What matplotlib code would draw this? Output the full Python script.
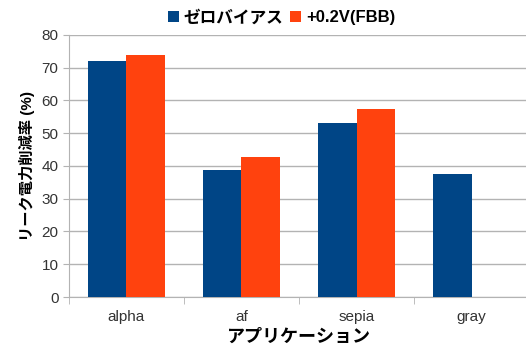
import matplotlib
matplotlib.use('Agg')
import matplotlib.pyplot as plt
import numpy as np

plt.rcParams['font.family'] = ['Liberation Sans', 'Noto Sans CJK JP']

categories = ['alpha', 'af', 'sepia', 'gray']
zero_bias = [72, 38.8, 53, 37.6]
fbb = [74, 42.7, 57.4, np.nan]
series_names = ['ゼロバイアス', '+0.2V(FBB)']
colors = ['#004586', '#ff420e']
yticks = [0, 10, 20, 30, 40, 50, 60, 70, 80]

fig = plt.figure(figsize=(5.26, 3.45), dpi=100)
ax = fig.add_axes([0.131, 0.139, 0.875, 0.76])

x = np.arange(len(categories))
w = 0.335
ax.bar(x - w / 2, zero_bias, w, color=colors[0], label=series_names[0], zorder=3)
ax.bar(x + w / 2, fbb, w, color=colors[1], label=series_names[1], zorder=3)

ax.set_xlim(-0.5, len(categories) - 0.5)
ax.set_ylim(0, 80)
ax.set_yticks(yticks)
ax.yaxis.grid(True, color='#b3b3b3', linewidth=1, zorder=0)
ax.set_xticks(x)
ax.set_xticklabels(categories, fontsize=11, color='#333333')
ax.set_xticks(np.arange(len(categories) + 1) - 0.5, minor=True)
ax.tick_params(axis='x', which='major', length=0, pad=9)
ax.tick_params(axis='x', which='minor', length=5, color='#b3b3b3')
ax.tick_params(axis='y', length=4, color='#b3b3b3', labelsize=11, labelcolor='#333333')

for s in ['top', 'right']:
    ax.spines[s].set_visible(False)
for s in ['left', 'bottom']:
    ax.spines[s].set_color('#b3b3b3')

ax.set_ylabel('リーク電力削減率 (%)', fontsize=11, fontweight='bold', labelpad=5)
ax.set_xlabel('アプリケーション', fontsize=13, fontweight='bold', labelpad=4)

fig.legend(loc='upper center', bbox_to_anchor=(0.535, 1.015), ncol=2, frameon=False,
           prop={'size': 12, 'weight': 'bold'}, handlelength=0.65, handleheight=0.65,
           handletextpad=0.3, columnspacing=0.4)

fig.savefig('out.png', dpi=100)
